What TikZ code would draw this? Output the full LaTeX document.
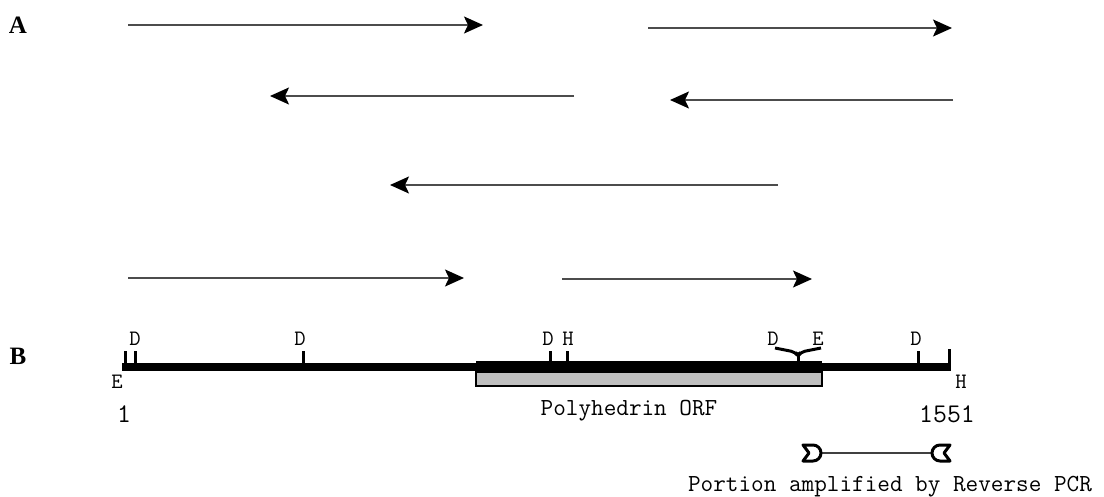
\documentclass[tikz,border=0pt]{standalone}
\usepackage{fontspec}
\setmainfont{Liberation Serif}
\usetikzlibrary{arrows.meta}

\begin{document}
\begin{tikzpicture}[x=1pt,y=-1pt,
  seqread/.style={line width=1.8pt, draw=black!70,
    -{Stealth[length=19pt,width=17pt,inset=4pt,color=black]}},
  panel/.style={font=\bfseries\fontsize{25}{25}\selectfont, inner sep=0pt},
  site/.style={font=\ttfamily\fontsize{22}{22}\selectfont, inner sep=0pt},
  mono/.style={font=\ttfamily\fontsize{24.5}{24.5}\selectfont, inner sep=0pt},
  num/.style={font=\ttfamily\fontsize{27}{27}\selectfont, inner sep=0pt},
  cut/.style={line width=3pt},
  primer/.style={line width=3pt, fill=white, line join=round}]
\useasboundingbox (0,0) rectangle (1104,497);

% panel letters
\node[panel] (pa) at (18,25) {A};
\node[panel] (pb) at (18,356) {B};

% ---- A: sequencing reads ----
\coordinate (r1s) at (128,25);  \coordinate (r1e) at (483,25);
\coordinate (r2s) at (648,28);  \coordinate (r2e) at (952,28);
\coordinate (r3s) at (574,96);  \coordinate (r3e) at (270,96);
\coordinate (r4s) at (953,100); \coordinate (r4e) at (670,100);
\coordinate (r5s) at (778,185); \coordinate (r5e) at (390,185);
\coordinate (r6s) at (128,278); \coordinate (r6e) at (464,278);
\coordinate (r7s) at (562,279); \coordinate (r7e) at (812,279);
\foreach \r in {1,...,7} \draw[seqread] (r\r s) -- (r\r e);

% ---- B: restriction map ----
\coordinate (m0) at (122,367);
\coordinate (m1) at (951,367);
\draw[line width=8.5pt] (m0) -- (m1);
% polyhedrin ORF
\fill (476,360.5) rectangle (822,373);
\draw[line width=2.2pt, fill=black!25] (476,372) rectangle (822,386);
\node[mono] (orf) at (629,411) {Polyhedrin ORF};

% cut sites
\draw[cut] (125,370) -- (125,351);
\draw[cut] (135,364) -- (135,351);
\draw[cut] (303,364) -- (303,351);
\draw[cut] (550,362) -- (550,351);
\draw[cut] (567,362) -- (567,351);
\draw[cut] (918,364) -- (918,351);
\draw[cut] (949,370) -- (949,349);
\draw[cut, line join=round, rounded corners=4pt]
  (775,348) -- (795,352) -- (798,356) -- (801,352) -- (821,348);
\draw[cut] (798,353) -- (798,362);

\node[site] (d1) at (135,339) {D};
\node[site] (d2) at (300,339) {D};
\node[site] (d3) at (548,339) {D};
\node[site] (h1) at (568,339) {H};
\node[site] (d4) at (773,339) {D};
\node[site] (e2) at (818,339) {E};
\node[site] (d5) at (916,339) {D};
\node[site] (e1) at (117,382) {E};
\node[site] (h2) at (961,382) {H};

\node[num] (n1) at (124,414) {1};
\node[num] (n2) at (947,414) {1551};

% reverse PCR product
\coordinate (p0) at (820,453);
\coordinate (p1) at (933,453);
\draw[line width=1.5pt, black!75] (p0) -- (p1);
\draw[primer] (803,445) -- (813,445) arc[start angle=90,end angle=-90,radius=8pt]
  -- (803,461) -- (809,453) -- cycle;
\draw[primer] (950,445) -- (940,445) arc[start angle=90,end angle=270,radius=8pt]
  -- (950,461) -- (944,453) -- cycle;
\node[mono] (pcr) at (890,487) {Portion amplified by Reverse PCR};
\end{tikzpicture}
\end{document}
